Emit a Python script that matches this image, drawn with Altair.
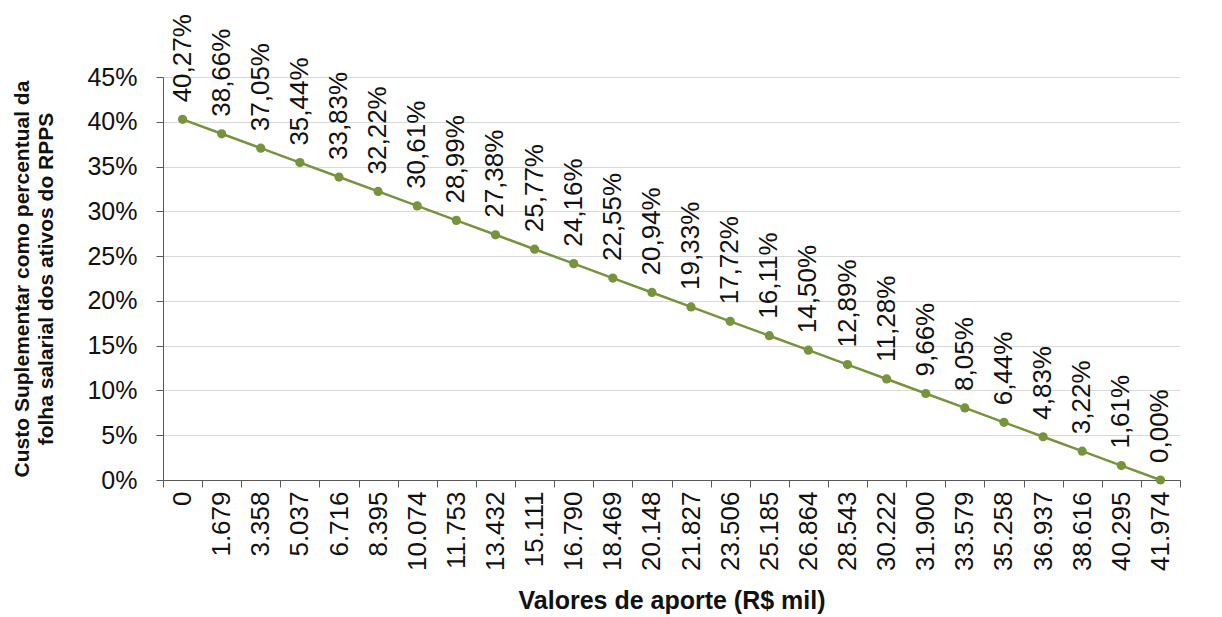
import altair as alt
import pandas as pd

aporte = ["0", "1.679", "3.358", "5.037", "6.716", "8.395", "10.074", "11.753",
          "13.432", "15.111", "16.790", "18.469", "20.148", "21.827", "23.506",
          "25.185", "26.864", "28.543", "30.222", "31.900", "33.579", "35.258",
          "36.937", "38.616", "40.295", "41.974"]
custo = [40.27, 38.66, 37.05, 35.44, 33.83, 32.22, 30.61, 28.99, 27.38, 25.77,
         24.16, 22.55, 20.94, 19.33, 17.72, 16.11, 14.50, 12.89, 11.28, 9.66,
         8.05, 6.44, 4.83, 3.22, 1.61, 0.00]
rotulos = [f"{v:.2f}%".replace(".", ",") for v in custo]

df = pd.DataFrame({"aporte": aporte, "custo": [v / 100 for v in custo], "rotulo": rotulos})

GREEN = "#77933C"
FONT = "Liberation Sans"

x = alt.X("aporte:N", sort=aporte,
          scale=alt.Scale(paddingInner=0, paddingOuter=0),
          axis=alt.Axis(title="Valores de aporte (R$ mil)", labelAngle=270,
                        labelAlign="right", labelBaseline="middle",
                        labelFontSize=26, labelPadding=4, labelColor="#111",
                        tickBand="extent", tickSize=7, tickColor="#595959",
                        domainColor="#595959", grid=False,
                        titleFontSize=25, titleFontWeight="bold", titleColor="#111",
                        titlePadding=18))
y = alt.Y("custo:Q", scale=alt.Scale(domain=[0, 0.45]),
          axis=alt.Axis(title=["Custo Suplementar como percentual da",
                               "folha salarial dos ativos do RPPS"],
                        format=".0%", values=[i * 0.05 for i in range(10)],
                        labelFontSize=25, labelColor="#111", labelPadding=19,
                        tickSize=7, tickColor="#595959", domainColor="#595959",
                        gridColor="#d9d9d9", titleFontSize=21,
                        titleFontWeight="bold", titleColor="#111",
                        titleLineHeight=24, titlePadding=30))

line = alt.Chart(df).mark_line(color=GREEN, strokeWidth=2.5,
                               point=alt.OverlayMarkDef(color=GREEN, size=85, filled=True, opacity=1)).encode(x=x, y=y)
labels = alt.Chart(df).mark_text(angle=270, align="left", baseline="middle",
                                 dx=17, fontSize=26, font=FONT, color="#111").encode(
    x=x, y=y, text="rotulo:N")

chart = (line + labels).properties(
    width=1017, height=403,
    autosize=alt.AutoSizeParams(type="none"),
    padding={"left": 155, "top": 69, "right": 30, "bottom": 140},
).configure(font=FONT).configure_view(stroke=None)

chart.save("out.html", embed_options={"renderer": "svg", "actions": False})
